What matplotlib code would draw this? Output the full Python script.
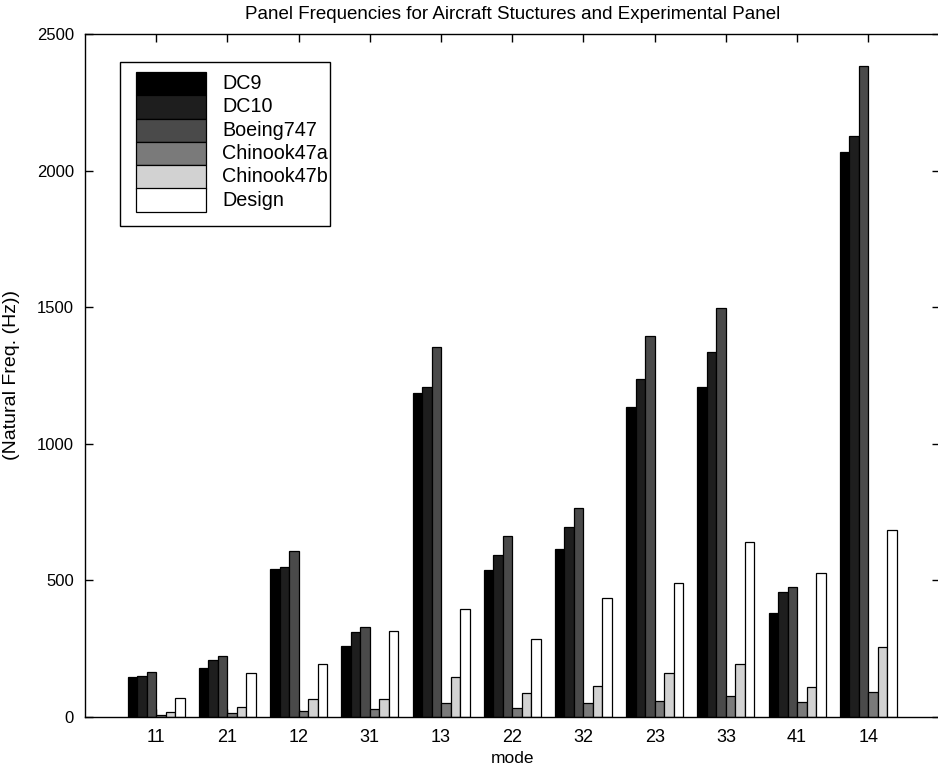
import matplotlib
matplotlib.use("Agg")
import matplotlib.pyplot as plt
from matplotlib.patches import Rectangle
import numpy as np

plt.rcParams['font.family'] = ['Liberation Sans', 'DejaVu Sans']

modes = ["11", "21", "12", "31", "13", "22", "32", "23", "33", "41", "14"]
series_names = ["DC9", "DC10", "Boeing747", "Chinook47a", "Chinook47b", "Design"]

dc9 = [148, 180, 542, 261, 1185, 538, 614, 1134, 1207, 380, 2067]
dc10 = [151, 209, 550, 312, 1209, 593, 697, 1236, 1337, 459, 2128]
boeing747 = [166, 224, 609, 328, 1353, 664, 766, 1396, 1496, 475, 2384]
chinook47a = [7, 14, 22, 29, 50, 34, 50, 59, 78, 56, 90]
chinook47b = [17, 38, 66, 66, 145, 87, 115, 162, 193, 111, 257]
design = [68, 160, 193, 315, 395, 286, 437, 489, 642, 528, 684]

series = [dc9, dc10, boeing747, chinook47a, chinook47b, design]
fills = ["#000000", "#1e1e1e", "#4a4a4a", "#7a7a7a", "#d2d2d2", "#ffffff"]

W, H = 938, 765
fig = plt.figure(figsize=(W / 100, H / 100), dpi=100)

# axes box in pixel terms (left, top, right, bottom)
L, T, R, B = 85, 34, 939.5, 717
ax = fig.add_axes([L / W, 1 - B / H, (R - L) / W, (B - T) / H])

x = np.arange(1, len(modes) + 1)
group_width = 0.8
bw = group_width / len(series)
for i, (vals, col) in enumerate(zip(series, fills)):
    offs = -group_width / 2 + bw * (i + 0.5)
    ax.bar(x + offs, vals, width=bw, color=col, edgecolor="black",
           linewidth=0.9, label=series_names[i], zorder=2)

ax.set_xlim(0, 12)
ax.set_ylim(0, 2500)
ax.set_xticks(x)
ax.set_xticklabels(modes)
ax.set_yticks([0, 500, 1000, 1500, 2000, 2500])
ax.tick_params(direction="in", length=6, width=1, labelsize=12,
               top=True, right=True, pad=8)
ax.tick_params(axis="x", labelsize=13, pad=9)
for s in ax.spines.values():
    s.set_linewidth(1.0)

ax.set_title("Panel Frequencies for Aircraft Stuctures and Experimental Panel",
             fontsize=13.5, pad=11)
ax.set_xlabel("mode", fontsize=12.5, labelpad=3)
ax.set_ylabel("(Natural Freq. (Hz))", fontsize=14)
ax.yaxis.set_label_coords((20 - L) / (R - L), 0.5)

# legend: stacked swatches with labels beside them, in pixel layout
def px(xp, yp):
    return (xp / W, 1 - yp / H)

box_l, box_t, box_r, box_b = 120, 62, 330, 226
fig.patches.append(Rectangle(px(box_l, box_b), (box_r - box_l) / W,
                             (box_b - box_t) / H, transform=fig.transFigure,
                             facecolor="white", edgecolor="black",
                             linewidth=1.0, zorder=5))
sw_l, sw_r, sw_t, sw_h = 136, 206, 72, 23.3
for i, (name, col) in enumerate(zip(series_names, fills)):
    y0 = sw_t + i * sw_h
    fig.patches.append(Rectangle(px(sw_l, y0 + sw_h), (sw_r - sw_l) / W,
                                 sw_h / H, transform=fig.transFigure,
                                 facecolor=col, edgecolor="black",
                                 linewidth=0.9, zorder=6))
    fig.text(*px(222, y0 + sw_h / 2), name, fontsize=14.2, va="center",
             ha="left", zorder=7)

fig.savefig("out.png", dpi=100)
